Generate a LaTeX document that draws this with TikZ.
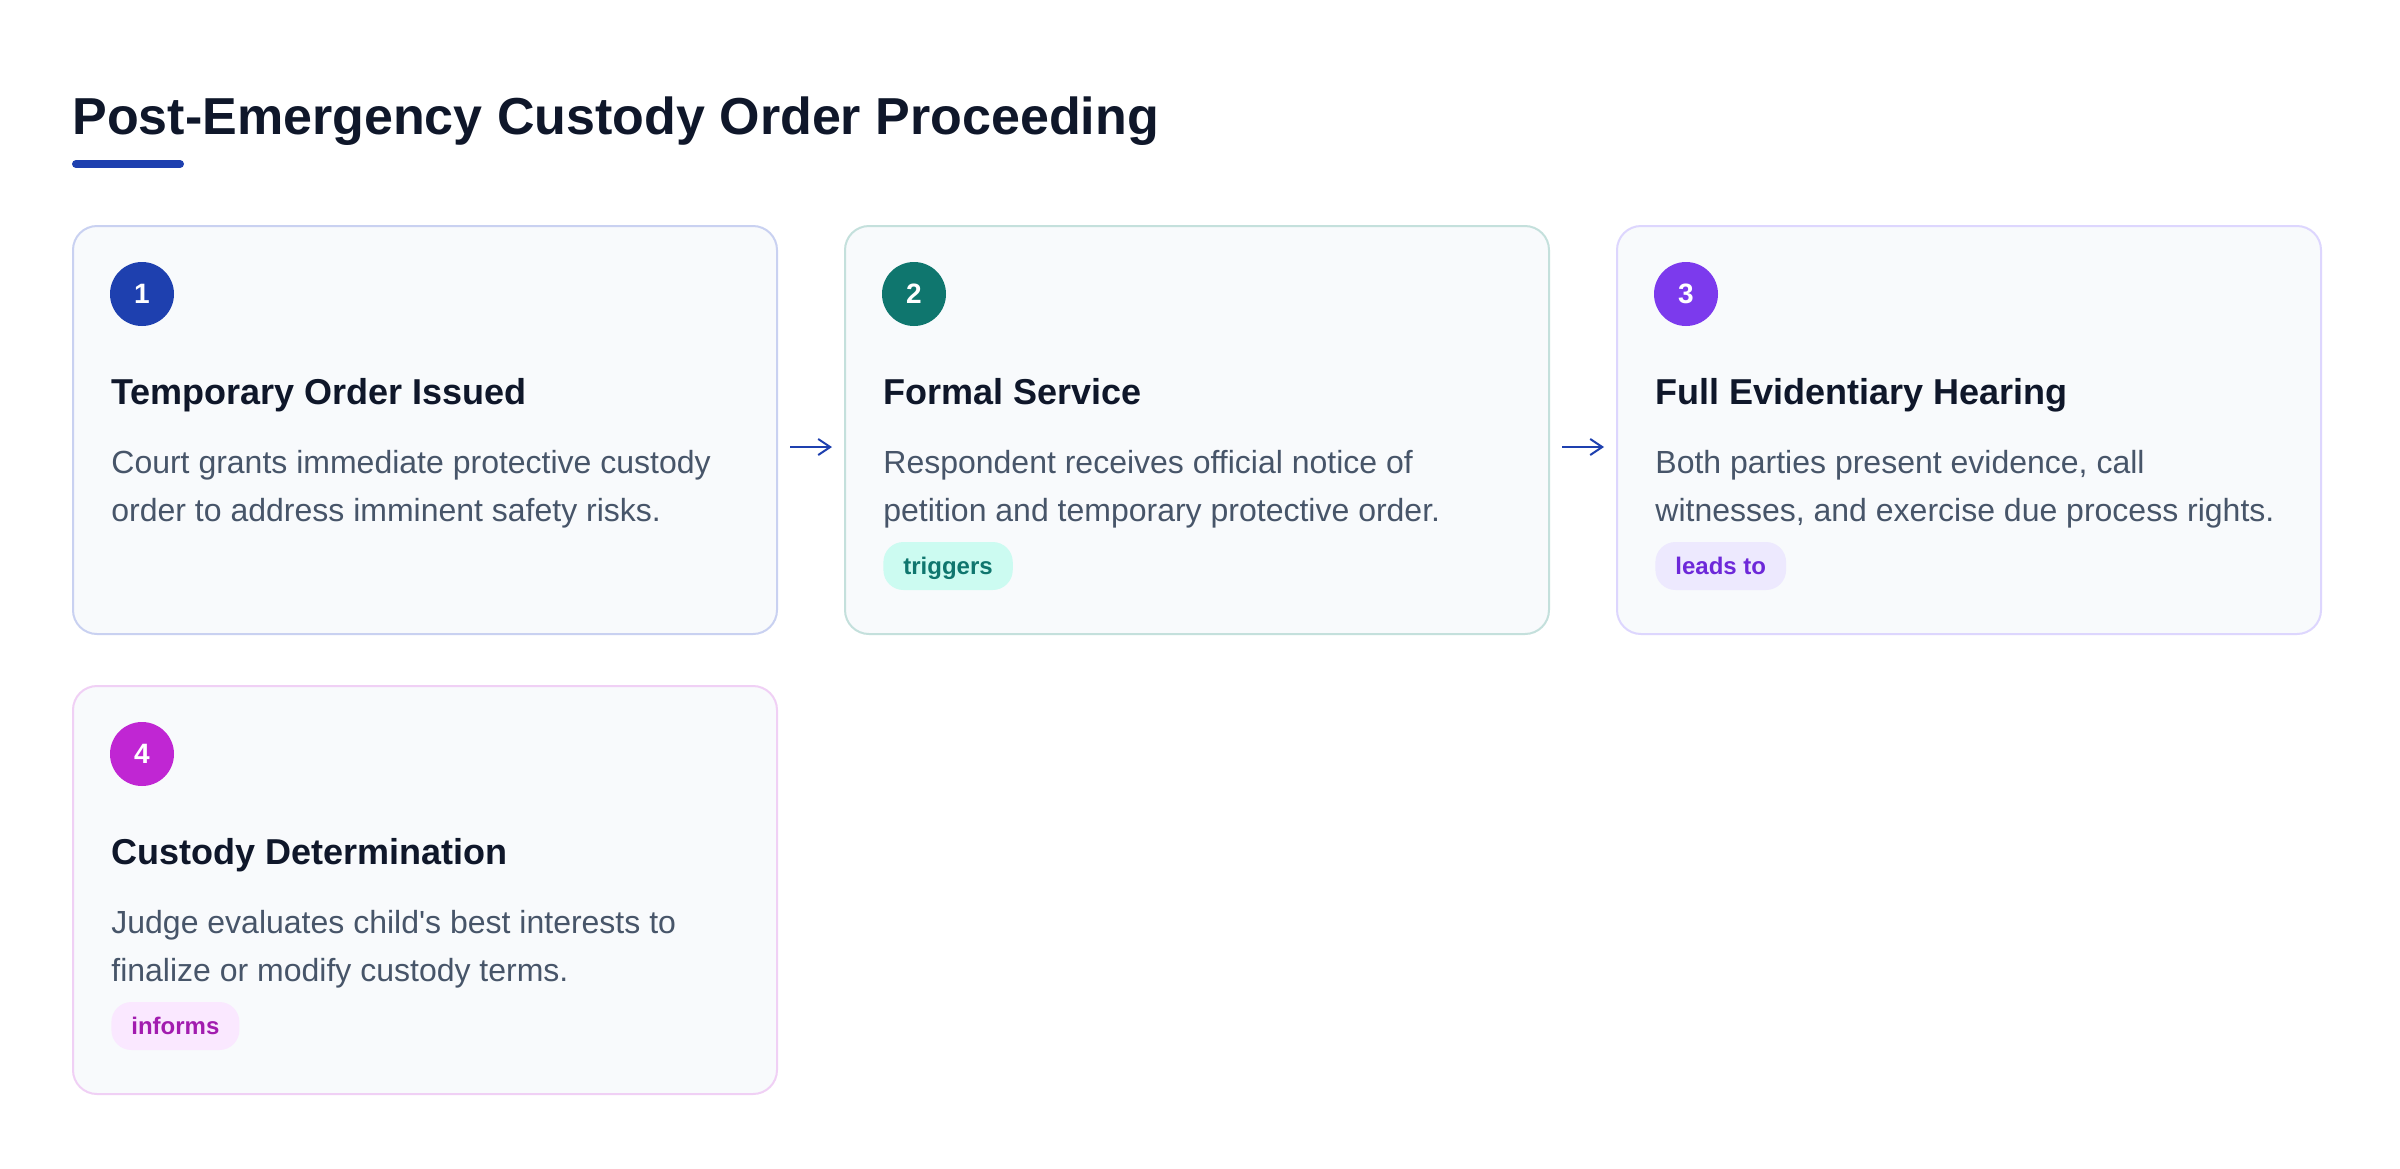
\documentclass[tikz,border=0pt]{standalone}
\usepackage{fontspec}
\setmainfont{Liberation Sans}
\usetikzlibrary{positioning,arrows.meta}

\definecolor{ink}{HTML}{0F172A}
\definecolor{muted}{HTML}{475569}
\definecolor{cardbg}{HTML}{F8FAFC}
\definecolor{accentblue}{HTML}{1E40AF}
\definecolor{accentteal}{HTML}{0F766E}
\definecolor{accentviolet}{HTML}{7C3AED}
\definecolor{accentpink}{HTML}{C026D3}
\definecolor{edgeblue}{HTML}{C9D1F1}
\definecolor{edgeteal}{HTML}{C4E0DC}
\definecolor{edgeviolet}{HTML}{DDD6FE}
\definecolor{edgepink}{HTML}{F0D0F5}
\definecolor{tagteal}{HTML}{CCFBF1}
\definecolor{tagviolet}{HTML}{EDE9FE}
\definecolor{tagpink}{HTML}{FAE8FF}
\definecolor{tagvioletink}{HTML}{6D28D9}
\definecolor{tagpinkink}{HTML}{A21CAF}

\begin{document}
\begin{tikzpicture}[x=0.5pt, y=-0.5pt,
    card/.style={draw, line width=1pt, fill=cardbg, rounded corners=12pt,
      minimum width=352pt, minimum height=204pt, inner sep=0pt},
    badge/.style={circle, minimum size=32pt, inner sep=0pt, text=white,
      font=\fontsize{14}{14}\selectfont\bfseries},
    heading/.style={anchor=base west, inner sep=0pt, text=ink,
      font=\fontsize{18}{22}\selectfont\bfseries},
    desc/.style={anchor=base west, inner sep=0pt, text=muted, align=left,
      font=\fontsize{16}{24}\selectfont},
    tag/.style={anchor=west, rounded corners=10pt, minimum height=24pt,
      inner xsep=10pt, inner ysep=0pt, text height=8.6pt, text depth=0pt,
      font=\fontsize{12}{12}\selectfont\bfseries},
    flow/.style={-{Straight Barb[length=6pt,width=8pt]}, line width=1pt,
      accentblue, shorten <=6pt, shorten >=6pt}]

    \fill[white] (0,0) rectangle (2400,1168);
    \useasboundingbox (0,0) rectangle (2400,1168);

    % title
    \node[anchor=base west, inner sep=0pt, text=ink,
      font=\fontsize{26}{30}\selectfont\bfseries] (title) at (72,134)
      {Post-Emergency Custody Order Proceeding};
    \draw[accentblue, line width=4pt, line cap=round]
      ([shift={(4,30)}]title.base west) -- ++(104,0);

    % cards
    \node[card, draw=edgeblue, anchor=north west] (c1) at (72,225) {};
    \node[card, draw=edgeteal, right=33pt of c1] (c2) {};
    \node[card, draw=edgeviolet, right=33pt of c2] (c3) {};
    \node[card, draw=edgepink, below=25pt of c1] (c4) {};

    % base of a two-line desc is its second line
    \node[badge, fill=accentblue] (n1) at ([shift={(70,69)}]c1.north west) {1};
    \node[heading] (h1) at ([shift={(39,179)}]c1.north west) {Temporary Order Issued};
    \node[desc] (d1) at ([shift={(39,296)}]c1.north west)
      {Court grants immediate protective custody\\order to address imminent safety risks.};

    \node[badge, fill=accentteal] (n2) at ([shift={(70,69)}]c2.north west) {2};
    \node[heading] (h2) at ([shift={(39,179)}]c2.north west) {Formal Service};
    \node[desc] (d2) at ([shift={(39,296)}]c2.north west)
      {Respondent receives official notice of\\petition and temporary protective order.};
    \node[tag, fill=tagteal, text=accentteal] (t2) at ([shift={(39,341)}]c2.north west) {triggers};

    \node[badge, fill=accentviolet] (n3) at ([shift={(70,69)}]c3.north west) {3};
    \node[heading] (h3) at ([shift={(39,179)}]c3.north west) {Full Evidentiary Hearing};
    \node[desc] (d3) at ([shift={(39,296)}]c3.north west)
      {Both parties present evidence, call\\witnesses, and exercise due process rights.};
    \node[tag, fill=tagviolet, text=tagvioletink] (t3) at ([shift={(39,341)}]c3.north west) {leads to};

    \node[badge, fill=accentpink] (n4) at ([shift={(70,69)}]c4.north west) {4};
    \node[heading] (h4) at ([shift={(39,179)}]c4.north west) {Custody Determination};
    \node[desc] (d4) at ([shift={(39,296)}]c4.north west)
      {Judge evaluates child\textquotesingle s best interests to\\finalize or modify custody terms.};
    \node[tag, fill=tagpink, text=tagpinkink] (t4) at ([shift={(39,341)}]c4.north west) {informs};

    % arrows between cards
    \draw[flow] ([yshift=-8.5pt]c1.east) -- ([yshift=-8.5pt]c2.west);
    \draw[flow] ([yshift=-8.5pt]c2.east) -- ([yshift=-8.5pt]c3.west);
\end{tikzpicture}
\end{document}
